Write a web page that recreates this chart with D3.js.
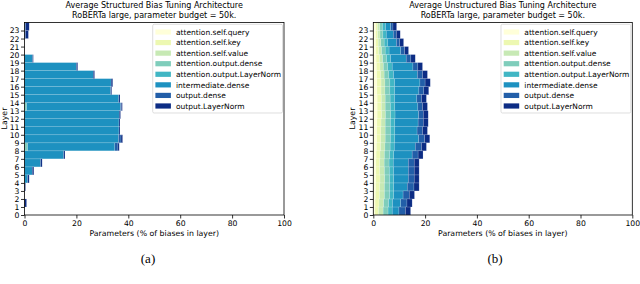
<!DOCTYPE html>
<html>
<head>
<meta charset="utf-8">
<script src="https://cdn.jsdelivr.net/npm/d3@7"></script>
<style>
  body { margin: 0; background: #fff; }
  svg { display: block; font-family: "DejaVu Sans", sans-serif; }
</style>
</head>
<body>
<div class="canvas"></div>
<script>
const layers = [0, 1, 2, 3, 4, 5, 6, 7, 8, 9, 10, 11, 12, 13, 14, 15, 16, 17, 18, 19, 20, 21, 22, 23];
const xTicks = [0, 20, 40, 60, 80, 100];
const components = [
  'attention.self.query', 'attention.self.key', 'attention.self.value',
  'attention.output.dense', 'attention.output.LayerNorm', 'intermediate.dense',
  'output.dense', 'output.LayerNorm'
];
const colors = ['#ffffd9', '#edf8b1', '#c7e9b4', '#7fcdbb', '#41b6c4', '#1d91c0', '#225ea8', '#0c2c84'];

// structured, % per layer (layer 0 .. 23)
const sQuery = [0, 0, 0, 0, 0, 0, 0, 0, 0, 0, 0, 0, 0, 0, 0, 0, 0, 0, 0, 0, 0, 0, 0, 0];
const sKey   = [0, 0, 0, 0, 0, 0, 0, 0, 0, 0, 0, 0, 0, 0, 0, 0, 0, 0, 0, 0, 0, 0, 0, 0];
const sValue = [0, 0, 0, 0, 0, 0, 0, 0, 0, 0, 0, 0, 0, 0, 0, 0, 0, 0, 0, 0, 0, 0, 0, 0];
const sAttnOutDense = [0, 0, 0, 0, 0, 0, 0, 0, 1.2, 0, 0, 0, 0, 0.8, 0, 0, 0, 0, 0, 0, 0, 0, 0, 0];
const sAttnOutNorm  = [0, 0, 0, 0, 0, 0, 0, 0, 0, 0, 0, 0, 0, 0, 0, 0, 0, 0, 0, 0, 0, 0, 0, 0];
const sInter = [0, 0, 0, 0, 1.2, 3.0, 6.2, 15.1, 33.6, 36.2, 36.4, 36.4, 36.5, 36.2, 36.3, 33.2, 33.4, 26.5, 20.0, 3.1, 0, 0, 0, 0];
const sOutDense = [0, 0, 0, 0, 0, 0, 0, 0, 1.2, 1.0, 0, 0, 0, 0.3, 0, 0, 0, 0, 0, 0, 0, 0, 0.4, 0.5];
const sOutNorm  = [0, 0.8, 0, 0.4, 0.6, 0.6, 0.6, 0.5, 0.5, 0.6, 0.4, 0.4, 0.5, 0.4, 0.5, 0.4, 0.6, 0.5, 0.5, 0.3, 0, 0, 1.1, 1.3];

// unstructured, % per layer (layer 0 .. 23)
const uQuery = [0.6, 0.7, 0.8, 0.9, 1.0, 1.0, 1.0, 1.1, 1.2, 1.3, 1.3, 1.4, 1.5, 1.5, 1.5, 1.4, 1.4, 1.3, 1.2, 1.1, 1.0, 0.9, 0.9, 0.9];
const uKey   = [1.4, 1.5, 1.6, 1.6, 1.6, 1.5, 1.5, 1.5, 1.6, 1.6, 1.6, 1.6, 1.7, 1.6, 1.6, 1.6, 1.6, 1.5, 1.4, 1.3, 1.1, 1.0, 0.8, 0.7];
const uValue = [1.8, 1.8, 1.9, 1.8, 1.8, 1.8, 1.7, 1.7, 1.7, 1.7, 1.7, 1.6, 1.5, 1.5, 1.5, 1.5, 1.5, 1.4, 1.3, 1.2, 1.1, 1.0, 0.9, 0.9];
const uAttnOutDense = [1.9, 1.9, 2.0, 2.0, 1.9, 1.9, 1.9, 2.0, 2.0, 2.0, 2.0, 2.0, 2.0, 2.0, 1.9, 1.9, 1.9, 1.8, 1.7, 1.5, 1.4, 1.3, 1.1, 1.0];
const uAttnOutNorm  = [1.6, 1.5, 1.6, 1.6, 1.6, 1.6, 1.6, 1.6, 1.6, 1.7, 1.7, 1.7, 1.7, 1.7, 1.7, 1.8, 1.8, 1.8, 1.7, 1.6, 1.5, 1.4, 1.3, 1.2];
const uInter = [2.6, 3.2, 3.6, 5.2, 5.6, 5.7, 5.8, 7.1, 8.1, 9.2, 8.6, 9.0, 9.1, 8.9, 8.6, 9.4, 9.8, 9.2, 8.0, 6.0, 4.5, 3.3, 2.7, 2.0];
const uOutDense = [2.5, 2.4, 2.4, 2.6, 2.3, 2.3, 2.3, 2.3, 2.4, 2.3, 2.1, 2.0, 1.8, 1.8, 1.8, 1.9, 2.0, 2.0, 1.9, 1.8, 1.5, 1.3, 1.2, 0.9];
const uOutNorm  = [2.0, 2.0, 2.0, 2.0, 1.9, 1.9, 1.9, 1.9, 1.9, 2.0, 1.9, 1.9, 1.9, 1.9, 1.9, 1.9, 2.0, 1.9, 1.8, 1.7, 1.5, 1.5, 1.5, 1.4];

const structured = [sQuery, sKey, sValue, sAttnOutDense, sAttnOutNorm, sInter, sOutDense, sOutNorm];
const unstructured = [uQuery, uKey, uValue, uAttnOutDense, uAttnOutNorm, uInter, uOutDense, uOutNorm];

const width = 640;
const height = 284;

const svg = d3.select('.canvas')
  .append('svg')
  .attr('width', width)
  .attr('height', height);

const color = d3.scaleOrdinal().domain(components).range(colors);

const drawPanel = (p) => {
  const x = d3.scaleLinear().domain([0, 100]).range([p.left, p.right]);
  const y = d3.scaleLinear().domain([0, 24]).range([215, 22.5]);
  const cx = (p.left + p.right) / 2;

  const rows = layers.map((l, i) => {
    const row = { layer: l };
    components.forEach((c, j) => { row[c] = p.series[j][i]; });
    return row;
  });
  const stacked = d3.stack().keys(components)(rows);

  const g = svg.append('g');

  g.selectAll('g.series')
    .data(stacked)
    .enter().append('g')
    .attr('class', 'series')
    .attr('fill', d => color(d.key))
    .selectAll('rect')
    .data(d => d.filter(s => s[1] - s[0] > 0))
    .enter().append('rect')
    .attr('x', d => x(d[0]))
    .attr('width', d => x(d[1]) - x(d[0]))
    .attr('y', d => y(d.data.layer + 1))
    .attr('height', d => y(d.data.layer) - y(d.data.layer + 1))
    .attr('stroke', '#ffffff')
    .attr('stroke-opacity', 0.3)
    .attr('stroke-width', 0.5);

  const xAxis = d3.axisBottom(x).tickValues(xTicks).tickSize(3.5).tickPadding(2);
  const yAxis = d3.axisLeft(y).tickValues(layers).tickSize(3.5).tickPadding(1.5);

  const xg = g.append('g').attr('transform', 'translate(0, 215)').call(xAxis);
  const yg = g.append('g').attr('transform', `translate(${p.left}, 0)`).call(yAxis);
  [xg, yg].forEach(a => {
    a.select('.domain').remove();
    a.selectAll('line').attr('stroke', '#000').attr('stroke-width', 0.8);
    a.selectAll('text').attr('font-size', 7.7).attr('fill', '#000')
      .attr('font-family', '"DejaVu Sans", sans-serif');
  });

  g.append('rect')
    .attr('x', p.left)
    .attr('y', 22.5)
    .attr('width', p.right - p.left)
    .attr('height', 215 - 22.5)
    .attr('fill', 'none')
    .attr('stroke', '#000')
    .attr('stroke-width', 0.8);

  // titles and labels
  g.append('text').attr('x', cx).attr('y', 8).attr('text-anchor', 'middle')
    .attr('font-size', 8).text(p.title);
  g.append('text').attr('x', cx).attr('y', 17.8).attr('text-anchor', 'middle')
    .attr('font-size', 8).text('RoBERTa large, parameter budget = 50k.');
  g.append('text').attr('x', cx).attr('y', 236).attr('text-anchor', 'middle')
    .attr('font-size', 7.8).text('Parameters (% of biases in layer)');
  g.append('text')
    .attr('transform', `translate(${p.left - 18}, 118.5) rotate(-90)`)
    .attr('text-anchor', 'middle')
    .attr('font-size', 7.8).text('Layer');
  g.append('text').attr('x', p.caption.x).attr('y', 262.5).attr('text-anchor', 'middle')
    .attr('font-family', '"Liberation Serif", serif')
    .attr('font-size', 13).text(p.caption.text);

  // legend
  const lg = g.append('g').attr('transform', `translate(${p.legendX}, 24.3)`);
  lg.append('rect')
    .attr('width', p.right - 1.5 - p.legendX)
    .attr('height', 88.7)
    .attr('rx', 1.5)
    .attr('fill', '#fff')
    .attr('fill-opacity', 0.85)
    .attr('stroke', '#d0d0d0')
    .attr('stroke-width', 0.7);
  const items = lg.selectAll('g.item').data(components).enter().append('g')
    .attr('class', 'item')
    .attr('transform', (d, i) => `translate(0, ${7.7 + i * 10.57})`);
  items.append('rect')
    .attr('x', 2.7).attr('y', -2.6).attr('width', 15.5).attr('height', 5.2)
    .attr('fill', d => color(d));
  items.append('text')
    .attr('x', 23.3).attr('y', 2.7)
    .attr('font-size', 7.5)
    .text(d => d);
};

drawPanel({
  left: 24.5, right: 284, legendX: 152.7,
  title: 'Average Structured Bias Tuning Architecture',
  caption: { x: 148, text: '(a)' },
  series: structured
});

drawPanel({
  left: 373.3, right: 632.3, legendX: 501,
  title: 'Average Unstructured Bias Tuning Architecture',
  caption: { x: 495, text: '(b)' },
  series: unstructured
});
</script>
</body>
</html>
